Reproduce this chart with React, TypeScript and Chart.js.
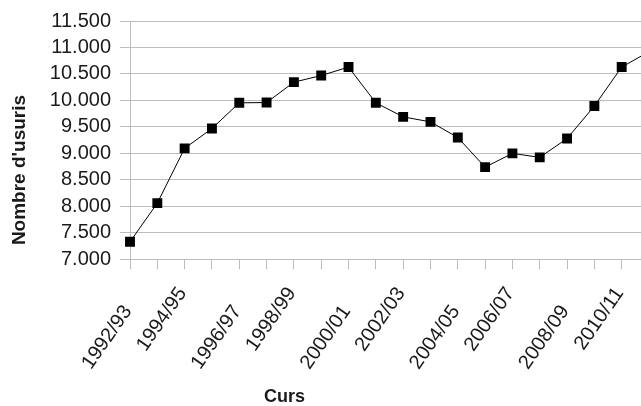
import React, { useEffect, useRef } from "react";
import { Chart, registerables } from "chart.js";

Chart.register(...registerables);

const courses = [
  "1992/93", "1993/94", "1994/95", "1995/96", "1996/97", "1997/98", "1998/99",
  "1999/00", "2000/01", "2001/02", "2002/03", "2003/04", "2004/05", "2005/06",
  "2006/07", "2007/08", "2008/09", "2009/10", "2010/11", "2011/12",
];
const users = [
  7330, 8060, 9095, 9470, 9955, 9960, 10345, 10470, 10630, 9955,
  9690, 9595, 9300, 8740, 9000, 8925, 9280, 9895, 10630, 10920,
];
const yMin = 7000;
const yMax = 11500;
const yStep = 500;
const yTitle = "Nombre d'usuris";
const xTitle = "Curs";

const fmt = (v: number) => {
  const th = Math.floor(v / 1000);
  const r = String(Math.round(v % 1000)).padStart(3, "0");
  return th + "." + r;
};

const FONT = "'Liberation Sans', Arial, sans-serif";
const GRID = "#bdbdbd";

const textPlugin = {
  id: "textPlugin",
  afterDraw(chart: any) {
    const ctx = chart.ctx;
    const xs = chart.scales.x;
    const theta = (55 * Math.PI) / 180;
    ctx.save();
    ctx.fillStyle = "#1a1a1a";
    ctx.font = `20px ${FONT}`;
    ctx.textAlign = "right";
    ctx.textBaseline = "alphabetic";
    courses.forEach((lab, i) => {
      if (i % 2 !== 0) return;
      const x = xs.getPixelForValue(i);
      const high = (i / 2) % 2 === 1;
      const ax = x + 2.5;
      const ay = high ? 293 : 311;
      ctx.save();
      ctx.translate(ax, ay);
      ctx.rotate(-theta);
      ctx.fillText(lab, 0, 0);
      ctx.restore();
    });
    ctx.font = `bold 18px ${FONT}`;
    ctx.textAlign = "center";
    ctx.textBaseline = "middle";
    ctx.fillText(xTitle, 284.5, 397);
    ctx.font = `bold 19px ${FONT}`;
    ctx.save();
    ctx.translate(20, 170);
    ctx.rotate(-Math.PI / 2);
    ctx.fillText(yTitle, 0, 0);
    ctx.restore();
    ctx.restore();
  },
};

export default function App() {
  const ref = useRef<HTMLCanvasElement>(null);
  useEffect(() => {
    if (!ref.current) return;
    const chart = new Chart(ref.current, {
      type: "line",
      data: {
        labels: courses,
        datasets: [
          {
            data: users,
            borderColor: "#000",
            borderWidth: 1,
            backgroundColor: "#000",
            pointStyle: "rect",
            pointRadius: 7,
            pointBorderWidth: 0,
            pointBackgroundColor: "#000",
            tension: 0,
            clip: 20,
          },
        ],
      },
      options: {
        responsive: false,
        animation: false,
        layout: { padding: { top: 18, right: 3.5, bottom: 0, left: 0 } },
        plugins: { legend: { display: false }, tooltip: { enabled: false } },
        scales: {
          x: {
            type: "category",
            offset: false,
            ticks: { display: false, autoSkip: false },
            grid: {
              display: true,
              drawOnChartArea: false,
              drawTicks: true,
              tickLength: 10,
              color: GRID,
            },
            border: { display: true, color: GRID },
            afterFit: (s: any) => {
              s.height = 406 - 259.3;
            },
          },
          y: {
            min: yMin,
            max: yMax,
            ticks: {
              stepSize: yStep,
              autoSkip: false,
              callback: (v: any) => fmt(Number(v)),
              color: "#1a1a1a",
              font: { family: FONT, size: 20 },
              padding: 9,
            },
            grid: { color: GRID, tickLength: 10, drawTicks: true },
            border: { display: true, color: GRID },
            afterFit: (s: any) => {
              s.width = 130;
            },
          },
        },
      },
      plugins: [textPlugin],
    });
    return () => chart.destroy();
  }, []);
  return (
    <div
      style={{
        position: "fixed",
        left: 0,
        top: 0,
        width: 641,
        height: 406,
        overflow: "hidden",
        background: "#fff",
      }}
    >
      <canvas ref={ref} width={656} height={406} style={{ display: "block" }} />
    </div>
  );
}
